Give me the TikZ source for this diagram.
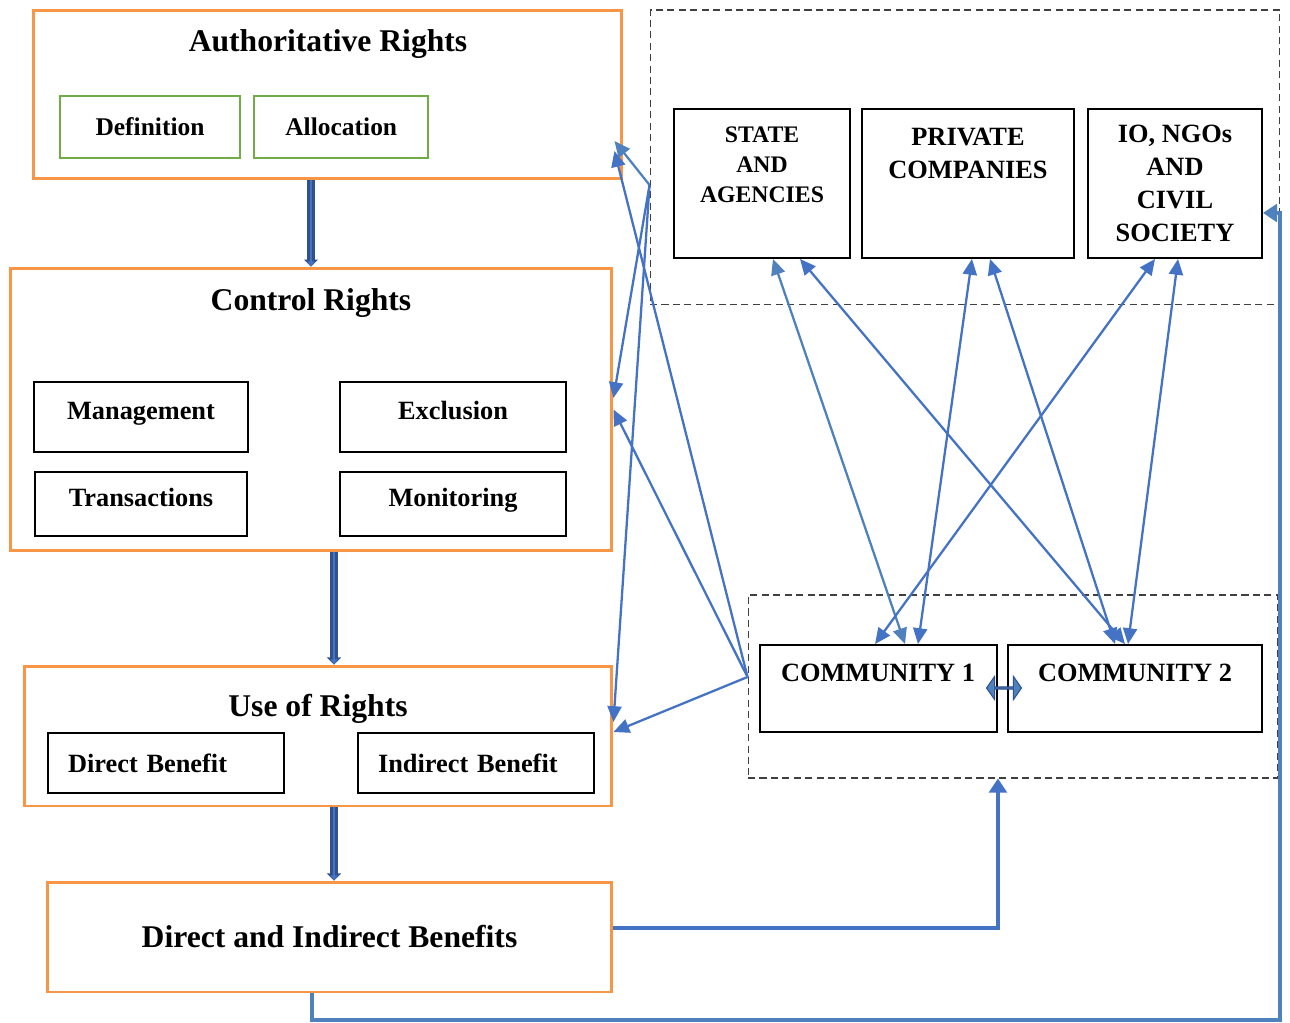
\documentclass[tikz,border=0pt]{standalone}
\usepackage{fontspec}
\setmainfont{Liberation Serif}
\usetikzlibrary{arrows.meta,positioning,shapes.arrows}
\definecolor{rimorange}{RGB}{247,150,70}
\definecolor{leafgreen}{RGB}{112,173,71}
\definecolor{linkblue}{RGB}{68,114,196}
\definecolor{steelblue}{RGB}{79,129,189}
\definecolor{pipenavy}{RGB}{47,82,143}
\definecolor{dashgray}{RGB}{64,64,64}

\begin{document}
\begin{tikzpicture}[
  x=0.02cm, y=-0.02cm,
  rbox/.style={draw=rimorange, line width=1.7pt, inner sep=0pt},
  gbox/.style={
    draw=leafgreen,
    line width=1.3pt,
    inner sep=0pt,
    font=\fontsize{14.5}{17}\selectfont\bfseries
  },
  kbox/.style={
    draw=black,
    line width=1.1pt,
    inner sep=0pt,
    font=\fontsize{15}{18}\selectfont\bfseries
  },
  hbox/.style={kbox, text height=10pt, text depth=7pt},
  lbox/.style={kbox, text width=3.92cm, align=left, inner xsep=.4cm},
  grp/.style={draw=dashgray, dash pattern=on 4pt off 2.5pt, line width=.6pt},
  title/.style={font=\fontsize{18}{22}\selectfont\bfseries},
  caps/.style={align=center, font=\fontsize{15}{18.8}\selectfont\bfseries},
  link/.style={
    draw=linkblue,
    line width=1.3pt,
    {Triangle[length=9pt,width=8pt]}-{Triangle[length=9pt,width=8pt]}
  },
  ray/.style={draw=linkblue, line width=1.3pt, -{Triangle[length=9pt,width=8pt]}},
  feed/.style={draw=steelblue, line width=2.3pt, -{Triangle[length=8pt,width=10pt]}},
  pipe/.style={
    draw=linkblue,
    line width=1.4pt,
    -{Triangle[length=3pt,width=4pt]},
    preaction={draw=pipenavy, line width=4.2pt, -{Triangle[length=4pt,width=8pt]}}
  }
]
\useasboundingbox (0,0) rectangle (1290,1023);

% left column
\node[rbox, minimum width=11.78cm, minimum height=3.38cm] (auth) at (327.5,94.5) {};
\node[title] (authT) at (328,44) {Authoritative Rights};
\node[gbox, minimum width=3.6cm, minimum height=1.24cm] (defn) at (150,127) {Definition};
\node[gbox, minimum width=3.48cm, minimum height=1.24cm, right=.24cm of defn]
  (alloc) {Allocation};

\node[rbox, minimum width=12.04cm, minimum height=5.66cm] (ctrl) at (311,409.5) {};
\node[title] (ctrlT) at (311,303) {Control Rights};
\node[hbox, minimum width=4.28cm, minimum height=1.4cm] (mgmt) at (141,417) {Management};
\node[hbox, minimum width=4.52cm, minimum height=1.4cm] (excl) at (453,417) {Exclusion};
\node[hbox, minimum width=4.24cm, minimum height=1.28cm, below=.36cm of mgmt]
  (trans) {Transactions};
\node[hbox, minimum width=4.52cm, minimum height=1.28cm, below=.36cm of excl]
  (moni) {Monitoring};

\node[rbox, minimum width=11.76cm, minimum height=2.8cm] (use) at (318,736) {};
\node[title] (useT) at (318,709) {Use of Rights};
\node[lbox, minimum height=1.2cm] (dben) at (166,763) {Direct Benefit};
\node[lbox, minimum height=1.2cm] (iben) at (476,763) {Indirect Benefit};

\node[rbox, title, minimum width=11.3cm, minimum height=2.2cm] (dib) at (329.5,937)
  {Direct and Indirect Benefits};

% actors
\node[grp, minimum width=12.6cm, minimum height=5.9cm] (topgrp) at (965,157.5) {};
\node[kbox, minimum width=3.52cm, minimum height=2.98cm] (state) at (762,183.5) {};
\node[caps, font=\fontsize{13.5}{17}\selectfont\bfseries] (stateT) at (762,165)
  {STATE\\AND\\AGENCIES};
\node[kbox, minimum width=4.24cm, minimum height=2.98cm] (private) at (968,183.5) {};
\node[caps] (privateT) at (968,153.5) {PRIVATE\\COMPANIES};
\node[kbox, caps, minimum width=3.48cm, minimum height=2.98cm] (io) at (1175,183.5)
  {IO, NGOs\\AND\\CIVIL\\SOCIETY};

\node[grp, minimum width=10.6cm, minimum height=3.66cm] (commgrp) at (1013,686.5) {};
\node[kbox, minimum width=4.74cm, minimum height=1.74cm] (comm1) at (878.5,688.5) {};
\node[kbox, minimum width=5.08cm, minimum height=1.74cm] (comm2) at (1135,688.5) {};
\node[font=\fontsize{15}{18}\selectfont\bfseries] (comm1T) at (878,673) {COMMUNITY 1};
\node[font=\fontsize{15}{18}\selectfont\bfseries] (comm2T) at (1135,673) {COMMUNITY 2};
\node[
  double arrow,
  draw=pipenavy,
  fill=steelblue,
  line width=.6pt,
  inner sep=0pt,
  minimum height=.7cm,
  minimum width=.46cm,
  double arrow head extend=.11cm,
  double arrow tip angle=110
] (swap) at (1004,688) {};

% flow down the rights
\draw[pipe] ([xshift=-.33cm]auth.south) -- ([xshift=-.33cm]auth.south |- ctrl.north);
\draw[pipe] ([xshift=.46cm]ctrl.south) -- ([xshift=.46cm]ctrl.south |- use.north);
\draw[pipe] ([xshift=.32cm]use.south) -- ([xshift=.32cm]use.south |- dib.north);

% actors to rights
\coordinate (tapL) at ([yshift=-.55cm]topgrp.west);
\coordinate (capL) at ([yshift=.19cm]commgrp.west);
\draw[ray, draw=steelblue] (tapL) -- ([xshift=-.18cm,yshift=-.93cm]auth.east);
\draw[ray] (tapL) -- ([yshift=.23cm]ctrl.east);
\draw[ray] (tapL) -- ([yshift=.28cm]use.east);
\draw[ray] (capL) -- ([xshift=-.18cm,yshift=-1.13cm]auth.east);
\draw[ray] (capL) -- (ctrl.east);
\draw[ray] (capL) -- ([yshift=.08cm]use.east);

% actors to communities
\draw[link, draw=steelblue] ([xshift=.22cm]state.south) -- ([xshift=.53cm]comm1.north);
\draw[link] ([xshift=.76cm]state.south) -- ([xshift=-.2cm]comm2.north);
\draw[link] ([xshift=.08cm]private.south) -- ([xshift=.79cm]comm1.north);
\draw[link] ([xshift=.44cm]private.south) -- ([xshift=-.4cm]comm2.north);
\draw[link] ([xshift=-.4cm]io.south) -- ([xshift=-.07cm]comm1.north);
\draw[link] ([xshift=.06cm]io.south) -- ([xshift=-.14cm]comm2.north);

% benefits fed back
\coordinate (rail) at (1280,1020);
\draw[feed, draw=linkblue] ([yshift=.18cm]dib.east) -| (comm1.east |- commgrp.south);
\draw[feed] ([xshift=-.35cm]dib.south) |- (rail) |- ([yshift=-.59cm]io.east);
\end{tikzpicture}
\end{document}
